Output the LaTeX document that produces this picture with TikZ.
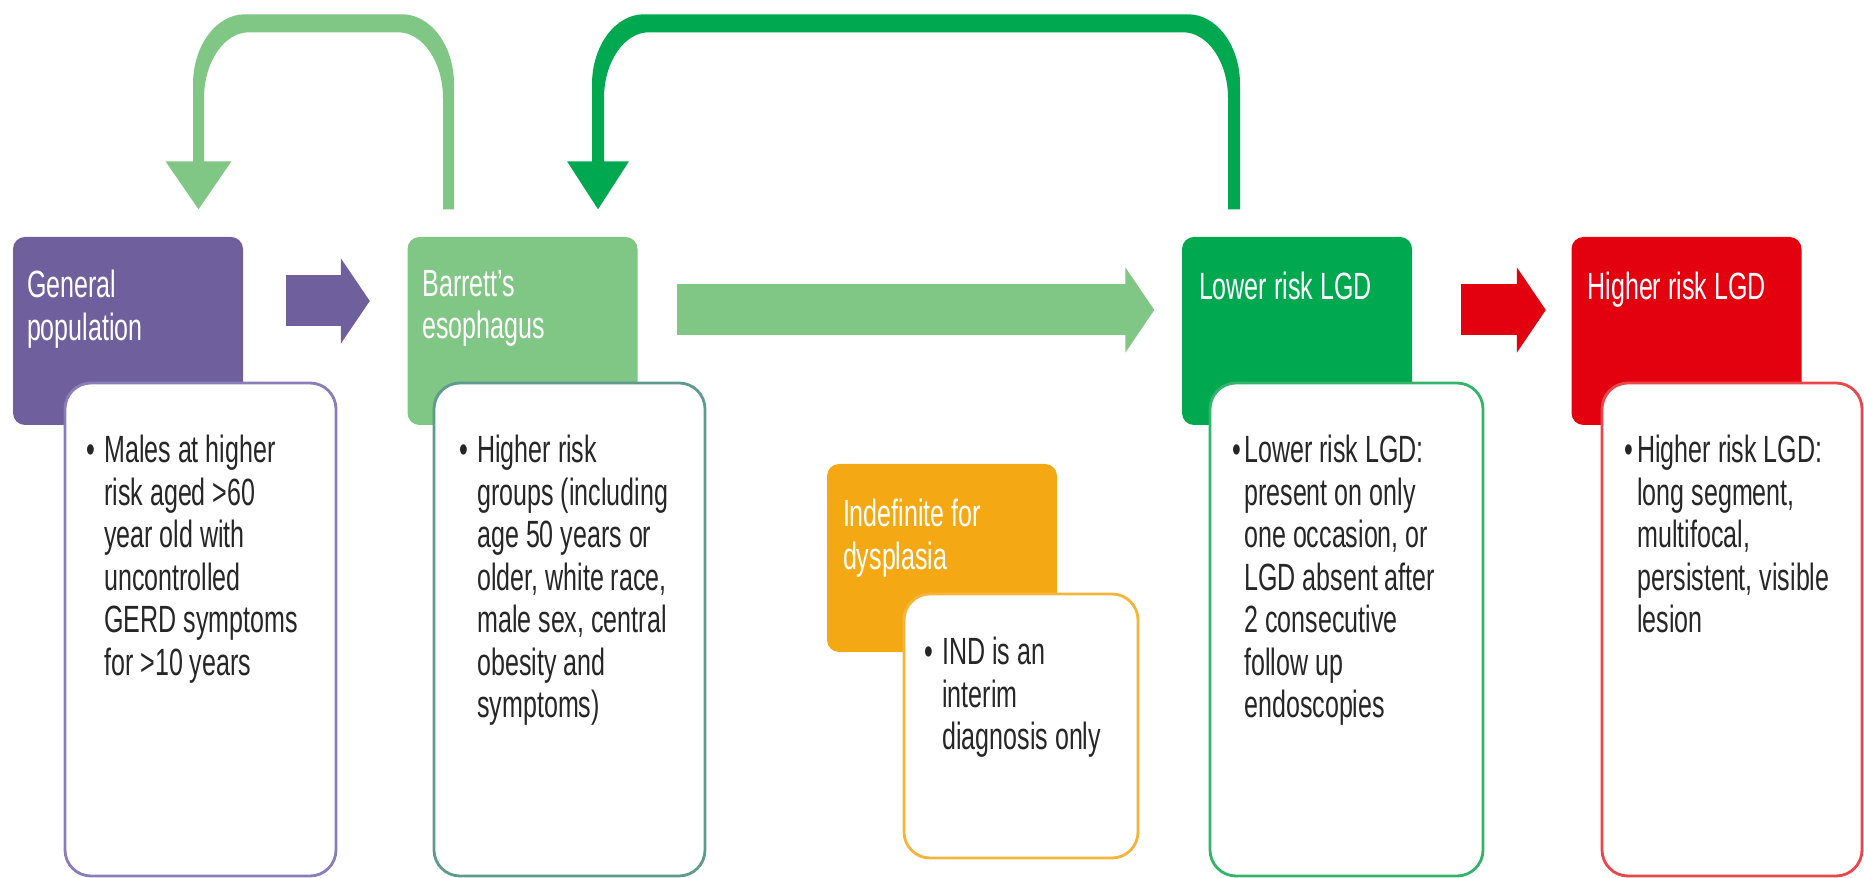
\documentclass[tikz,border=0pt]{standalone}
\usepackage{fontspec}
\setmainfont{Liberation Sans}[FakeStretch=0.66]
\usetikzlibrary{arrows.meta,positioning}

\definecolor{purp}{HTML}{6F5F9D}
\definecolor{purpline}{HTML}{8B7DB8}
\definecolor{lgreen}{HTML}{80C684}
\definecolor{tealline}{HTML}{5F9A8E}
\definecolor{dgreen}{HTML}{00A84F}
\definecolor{dgreenline}{HTML}{34B36A}
\definecolor{hred}{HTML}{E3000F}
\definecolor{hredline}{HTML}{E8474C}
\definecolor{amber}{HTML}{F4A914}
\definecolor{amberline}{HTML}{F6B53A}

\newcommand{\boxfont}{\fontsize{10.8}{12.1}\selectfont}
\newcommand{\bul}[1][2.5pt]{\llap{\textbullet\hspace{#1}}}

\begin{document}
\begin{tikzpicture}[x=0.1mm, y=-0.1mm,
    headbox/.style={rectangle, rounded corners=1.2mm, minimum width=23mm, minimum height=18.8mm, inner sep=0pt},
    notebox/.style={rectangle, rounded corners=2.6mm, fill=white, line width=0.8pt, minimum width=27.1mm, minimum height=49.3mm, inner sep=0pt},
    headtext/.style={anchor=north west, align=left, inner sep=0pt, text=white, font=\boxfont, execute at begin node=\strut},
    bodytext/.style={anchor=north west, align=left, inner sep=0pt, text=black!85, font=\boxfont, execute at begin node=\strut},
    blockarrow/.style={line width=5.1mm, -{Triangle[width=8.4mm, length=2.9mm]}}]
    \useasboundingbox (0,0) rectangle (1864,878);

    % stage boxes
    \node[headbox, fill=purp] (gen) at (128,331) {};
    \node[headbox, fill=lgreen] (bar) at (522.5,331) {};
    \node[headbox, fill=dgreen] (lgd) at (1297,331) {};
    \node[headbox, fill=hred] (hrl) at (1686.5,331) {};
    \node[headbox, fill=amber] (ind) at (942,558) {};

    % loop-back arrows
    \fill[lgreen] ([shift={(-68.5,-27)}]bar.north) -- ++(0,-125)
        .. controls +(0,-38.6) and +(28.7,0) .. ++(-52,-70)
        -- ++(-157,0)
        .. controls +(-28.7,0) and +(0,-38.6) .. ++(-52,70)
        -- ++(0,77) -- ++(-27.5,0) -- ++(33,48) -- ++(33,-48) -- ++(-27.5,0)
        -- ++(0,-63)
        .. controls +(0,-36.4) and +(-24.8,0) .. ++(45,-66)
        -- ++(149,0)
        .. controls +(24.8,0) and +(0,-36.4) .. ++(45,66)
        -- ++(0,111) -- cycle;
    \fill[dgreen] ([shift={(-57,-27)}]lgd.north) -- ++(0,-125)
        .. controls +(0,-38.6) and +(28.7,0) .. ++(-52,-70)
        -- ++(-544,0)
        .. controls +(-28.7,0) and +(0,-38.6) .. ++(-52,70)
        -- ++(0,77) -- ++(-25,0) -- ++(31,48) -- ++(31,-48) -- ++(-25,0)
        -- ++(0,-63)
        .. controls +(0,-36.4) and +(-24.8,0) .. ++(45,-66)
        -- ++(534,0)
        .. controls +(24.8,0) and +(0,-36.4) .. ++(45,66)
        -- ++(0,111) -- cycle;

    % forward arrows
    \draw[blockarrow, purp, shorten <=4.2mm, shorten >=3.7mm] ([yshift=3mm]gen.east) -- ([yshift=3mm]bar.west);
    \draw[blockarrow, lgreen, shorten <=3.9mm, shorten >=2.7mm] ([yshift=2.1mm]bar.east) -- ([yshift=2.1mm]lgd.west);
    \draw[blockarrow, hred, shorten <=4.8mm, shorten >=2.5mm] ([yshift=2.1mm]lgd.east) -- ([yshift=2.1mm]hrl.west);

    % detail boxes
    \node[notebox, draw=purpline] (gendet) at (200.5,629.5) {};
    \node[notebox, draw=tealline] (bardet) at (569.5,629.5) {};
    \node[notebox, draw=dgreenline, minimum width=27.3mm] (lgddet) at (1346.5,629.5) {};
    \node[notebox, draw=hredline, minimum width=26mm] (hrldet) at (1732,629.5) {};
    \node[notebox, draw=amberline, minimum width=23.4mm, minimum height=26.4mm] (inddet) at (1021,726) {};

    % titles
    \node[headtext] (gentxt) at ([shift={(14,33)}]gen.north west) {General\\population};
    \node[headtext] (bartxt) at ([shift={(15,33)}]bar.north west) {Barrett's\\esophagus};
    \node[headtext] (lgdtxt) at ([shift={(17,33)}]lgd.north west) {Lower risk LGD};
    \node[headtext] (hrltxt) at ([shift={(16,33)}]hrl.north west) {Higher risk LGD};
    \node[headtext] (indtxt) at ([shift={(16,35)}]ind.north west) {Indefinite for\\dysplasia};

    % bullet texts
    \node[bodytext] (gennote) at ([shift={(40,53)}]gendet.north west) {\bul Males at higher\\risk aged >60\\year old with\\uncontrolled\\GERD symptoms\\for >10 years};
    \node[bodytext] (barnote) at ([shift={(44,53)}]bardet.north west) {\bul Higher risk\\groups (including\\age 50 years or\\older, white race,\\male sex, central\\obesity and\\symptoms)};
    \node[bodytext] (lgdnote) at ([shift={(35,53)}]lgddet.north west) {\bul[0.8pt]Lower risk LGD:\\present on only\\one occasion, or\\LGD absent after\\2 consecutive\\follow up\\endoscopies};
    \node[bodytext] (hrlnote) at ([shift={(36,53)}]hrldet.north west) {\bul[1.2pt]Higher risk LGD:\\long segment,\\multifocal,\\persistent, visible\\lesion};
    \node[bodytext] (indnote) at ([shift={(39,44)}]inddet.north west) {\bul IND is an\\interim\\diagnosis only};
\end{tikzpicture}
\end{document}
